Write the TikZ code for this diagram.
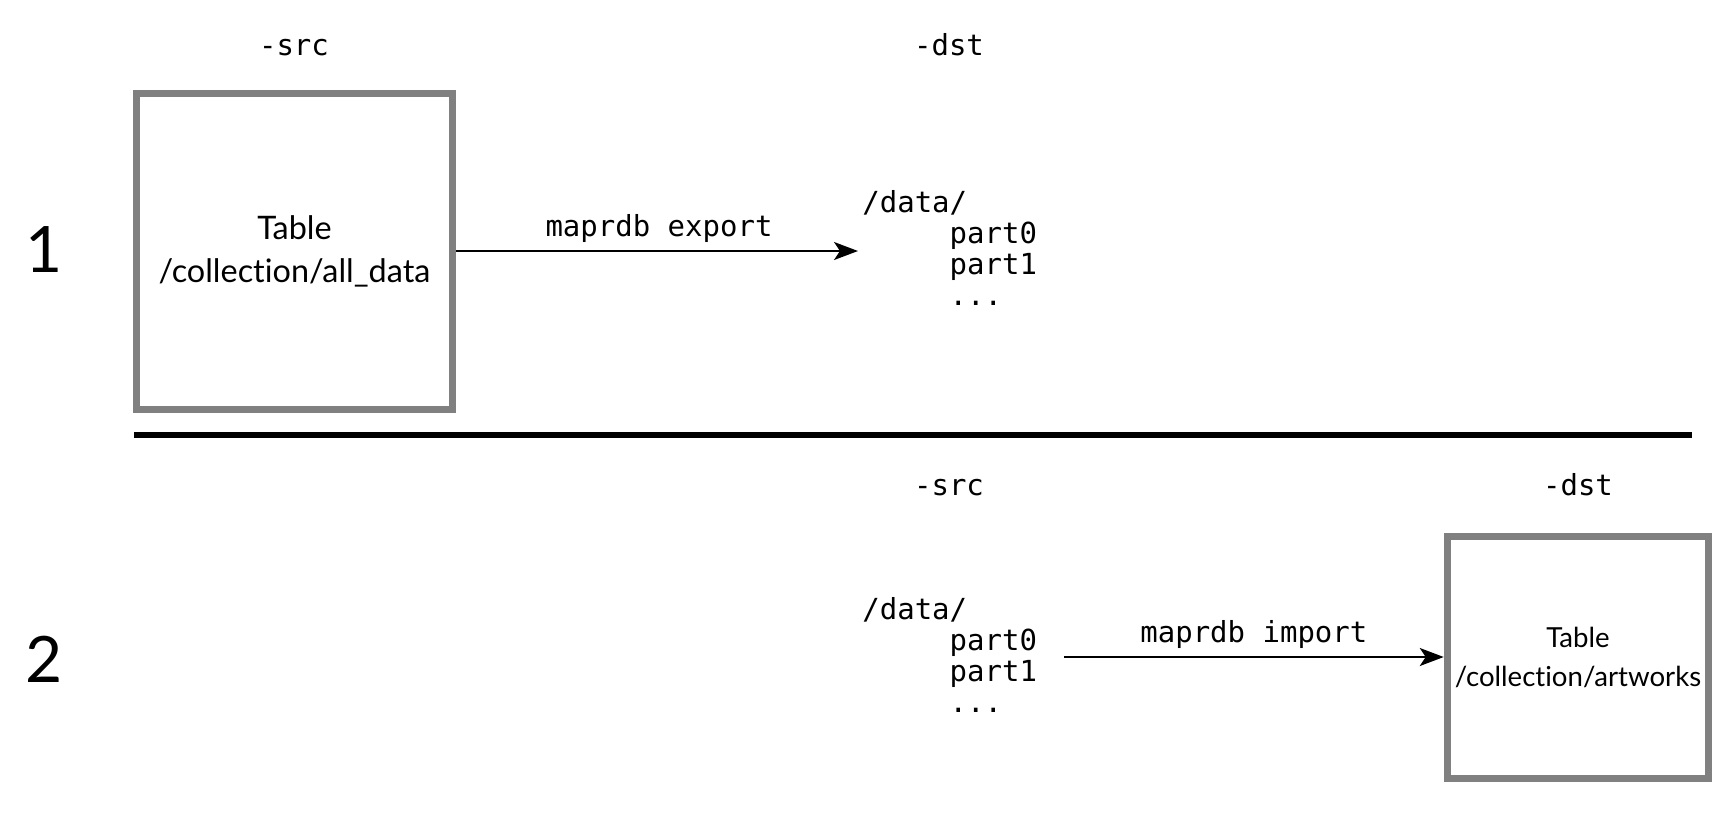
\documentclass[tikz,border=0pt]{standalone}
\usepackage{fontspec}
\setmainfont[Ligatures=NoCommon]{Lato}
\newfontfamily\monofont{DejaVu Sans Mono}
\usetikzlibrary{arrows.meta}
\definecolor{boxgray}{HTML}{808080}
\tikzset{
  tablebox/.style={draw=boxgray, line width=3.5pt, fill=white, inner sep=0pt, align=center},
  monolabel/.style={inner sep=0pt, anchor=base, font={\monofont\fontsize{14.5}{15.5}\selectfont}},
  listing/.style={inner sep=0pt, anchor=north west, align=left, font={\monofont\fontsize{14.5}{15.5}\selectfont}},
  rownum/.style={inner sep=0pt, font={\fontsize{32}{36}\selectfont}},
  flow/.style={line width=1pt, -{Stealth[length=12pt,width=9pt,inset=3pt]}},
}
\begin{document}
\begin{tikzpicture}[x=0.5pt,y=-0.5pt]
\useasboundingbox (0,0) rectangle (1726,832);
% row 1
\node[monolabel] (src1) at (294,55) {-src};
\node[monolabel] (dst1) at (949,55) {-dst};
\node[rownum] (n1) at (44,250) {1};
\node[tablebox, minimum width=158pt, minimum height=158pt,
      font={\fontsize{16.2}{21.5}\selectfont}] (box1) at (294.5,251) {Table\\/collection/all\_data};
\node[listing] (data1) at (862,190) {/data/\\\phantom{xxxxx}part0\\\phantom{xxxxx}part1\\\phantom{xxxxx}...};
\draw[flow, shorten >=2pt] (box1.east) -- (box1.east -| data1.west)
  node[midway, monolabel, yshift=7.5pt] (lab1) {maprdb export};
% separator
\coordinate (sepL) at (134,435);
\coordinate (sepR) at (1692,435);
\draw[line width=3pt] (sepL) -- (sepR);
% row 2
\node[monolabel] (src2) at (949,495) {-src};
\node[monolabel] (dst2) at (1578,495) {-dst};
\node[rownum] (n2) at (44,659) {2};
\node[tablebox, minimum width=130.75pt, minimum height=121pt,
      font={\fontsize{13.8}{19.5}\selectfont}] (box2) at (1578,657) {Table\\/collection/artworks};
\node[listing] (data2) at (862,597) {/data/\\\phantom{xxxxx}part0\\\phantom{xxxxx}part1\\\phantom{xxxxx}...};
\coordinate (a2s) at (1064,657);
\draw[flow] (a2s) -- (box2.west)
  node[midway, monolabel, yshift=7.5pt] (lab2) {maprdb import};
\end{tikzpicture}
\end{document}
